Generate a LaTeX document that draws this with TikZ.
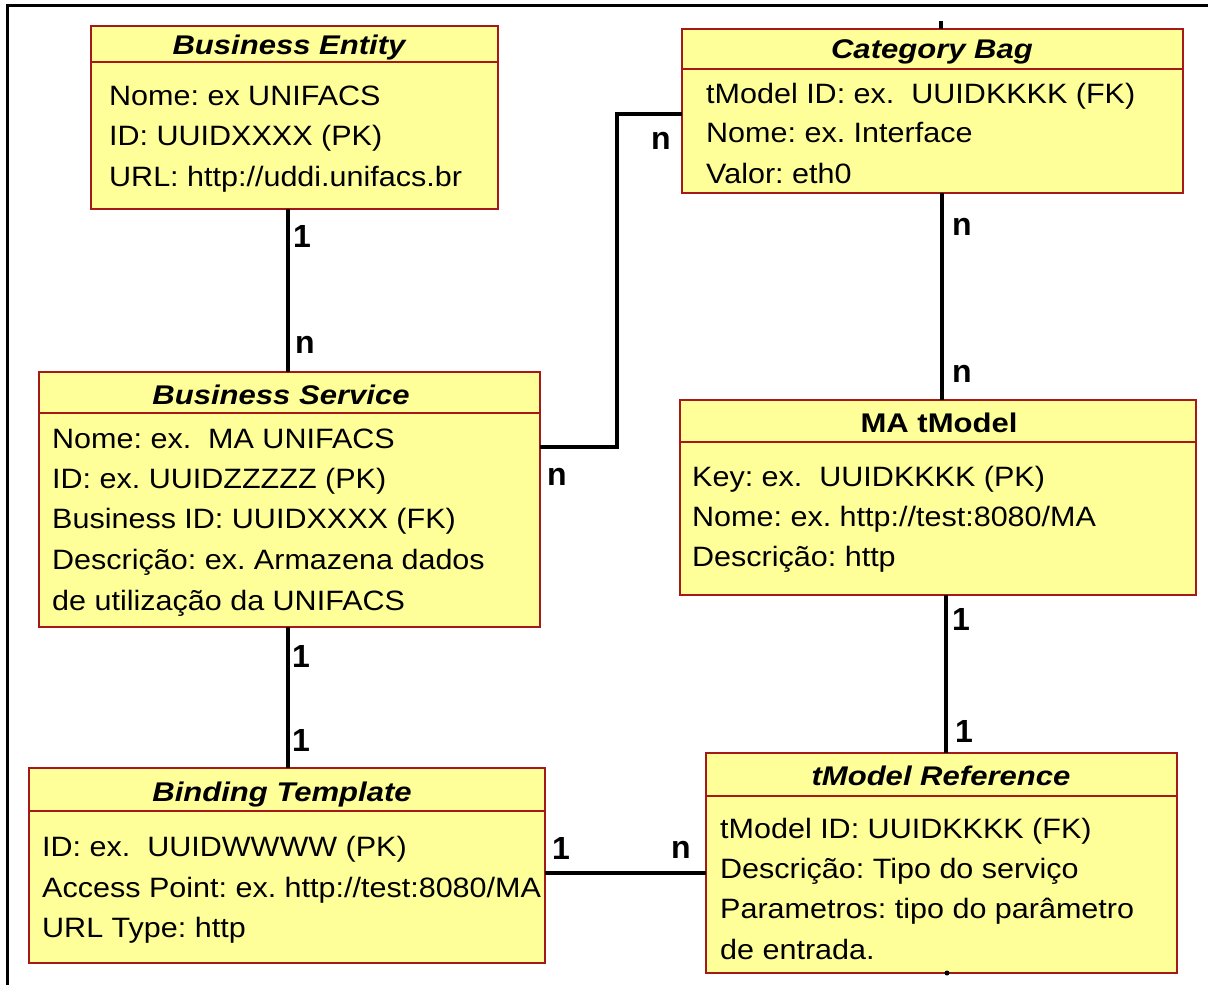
\documentclass[tikz,border=0pt]{standalone}
\usepackage{fontspec}
\setmainfont{Liberation Sans}
\newfontfamily\bodyfam[FakeStretch=1.09]{Liberation Sans}
\newfontfamily\titlefam[FakeStretch=1.15]{Liberation Sans}
\definecolor{boxfill}{RGB}{255,255,153}
\definecolor{boxedge}{RGB}{165,25,25}
\frenchspacing

\begin{document}
\begin{tikzpicture}[x=1pt,y=-1pt,
  entity/.style={draw=boxedge, fill=boxfill, line width=2pt, rectangle,
                 anchor=north west, inner sep=0pt, outer sep=0pt},
  divider/.style={draw=boxedge, line width=2pt},
  classtitle/.style={anchor=base, inner sep=0pt,
                 font=\titlefam\bfseries\itshape\fontsize{27}{31}\selectfont},
  plaintitle/.style={anchor=base, inner sep=0pt,
                 font=\titlefam\bfseries\fontsize{27}{31}\selectfont},
  field/.style={anchor=base west, inner sep=0pt,
                 font=\bodyfam\frenchspacing\fontsize{28}{32}\selectfont},
  link/.style={draw=black, line width=4.5pt},
  mult/.style={inner sep=0pt, font=\bfseries\fontsize{32}{35}\selectfont},
  frameline/.style={draw=black, line width=3pt}]

\useasboundingbox (0,0) rectangle (1211,985);

% page frame (left and top edges)
\draw[frameline] (7,985) -- (7,5) -- (1208,5);

% ---------- Business Entity ----------
\node[entity, minimum width=407pt, minimum height=183pt] (be) at (91,26) {};
\draw[divider] (be.north west |- 0,62) -- (be.north east |- 0,62);
\node[classtitle] (be-t) at (289,54) {Business Entity};
\node[field] (be-1) at (109,105) {Nome: ex UNIFACS};
\node[field] (be-2) at (109,145) {ID: UUIDXXXX (PK)};
\node[field] (be-3) at (109,186) {URL: http://uddi.unifacs.br};

% ---------- Category Bag ----------
\node[entity, minimum width=501pt, minimum height=164pt] (cb) at (682,29) {};
\draw[divider] (cb.north west |- 0,69) -- (cb.north east |- 0,69);
\node[classtitle] (cb-t) at (932,58) {Category Bag};
\node[field] (cb-1) at (706,103) {tModel ID: ex.\ \ UUIDKKKK (FK)};
\node[field] (cb-2) at (706,142) {Nome: ex. Interface};
\node[field] (cb-3) at (706,183) {Valor: eth0};

% ---------- Business Service ----------
\node[entity, minimum width=501pt, minimum height=255pt] (bs) at (39,372) {};
\draw[divider] (bs.north west |- 0,413) -- (bs.north east |- 0,413);
\node[classtitle] (bs-t) at (281,404) {Business Service};
\node[field] (bs-1) at (52,448) {Nome: ex.\ \ MA UNIFACS};
\node[field] (bs-2) at (52,488) {ID: ex. UUIDZZZZZ (PK)};
\node[field] (bs-3) at (52,528) {Business ID: UUIDXXXX (FK)};
\node[field] (bs-4) at (52,569) {Descrição: ex. Armazena dados};
\node[field] (bs-5) at (52,610) {de utilização da UNIFACS};

% ---------- MA tModel ----------
\node[entity, minimum width=516pt, minimum height=195pt] (ma) at (680,400) {};
\draw[divider] (ma.north west |- 0,442) -- (ma.north east |- 0,442);
\node[plaintitle] (ma-t) at (939,432) {MA tModel};
\node[field] (ma-1) at (692,486) {Key: ex.\ \ UUIDKKKK (PK)};
\node[field] (ma-2) at (692,526) {Nome: ex. http://test:8080/MA};
\node[field] (ma-3) at (692,566) {Descrição: http};

% ---------- Binding Template ----------
\node[entity, minimum width=516pt, minimum height=195pt] (bt) at (29,768) {};
\draw[divider] (bt.north west |- 0,811) -- (bt.north east |- 0,811);
\node[classtitle] (bt-t) at (282,801) {Binding Template};
\node[field] (bt-1) at (42,856) {ID: ex.\ \ UUIDWWWW (PK)};
\node[field] (bt-2) at (42,897) {Access Point: ex. http://test:8080/MA};
\node[field] (bt-3) at (42,937) {URL Type: http};

% ---------- tModel Reference ----------
\node[entity, minimum width=471pt, minimum height=220pt] (tmr) at (706,753) {};
\draw[divider] (tmr.north west |- 0,796) -- (tmr.north east |- 0,796);
\node[classtitle] (tmr-t) at (941,785) {tModel Reference};
\node[field] (tmr-1) at (720,838) {tModel ID: UUIDKKKK (FK)};
\node[field] (tmr-2) at (720,878) {Descrição: Tipo do serviço};
\node[field] (tmr-3) at (720,918) {Parametros: tipo do parâmetro};
\node[field] (tmr-4) at (720,959) {de entrada.};

% ---------- relationship lines ----------
\coordinate (colA) at (288,0);
\coordinate (colB) at (617,0);
\coordinate (colC) at (942,0);
\coordinate (colD) at (946,0);
\coordinate (rowA) at (0,447);
\coordinate (rowB) at (0,114);
\coordinate (rowC) at (0,873);

\draw[link] (be.south -| colA) -- (bs.north -| colA);
\draw[link] (bs.south -| colA) -- (bt.north -| colA);
\draw[link] (bs.east |- rowA) -| (colB |- rowB) -- (cb.west |- rowB);
\draw[link] (cb.south -| colC) -- (ma.north -| colC);
\draw[link] (ma.south -| colD) -- (tmr.north -| colD);
\draw[link] (bt.east |- rowC) -- (tmr.west |- rowC);

% small connector stubs
\draw[line width=3.5pt] (941,21) -- (cb.north -| 941,0);
\fill (947,973) circle[radius=2.5pt];

% ---------- multiplicities ----------
\node[mult] (m-be) at (302,236) {1};
\node[mult] (m-bs1) at (305,345) {n};
\node[mult] (m-cb1) at (661,141) {n};
\node[mult] (m-bs2) at (557,477) {n};
\node[mult] (m-cb2) at (962,227) {n};
\node[mult] (m-ma1) at (962,374) {n};
\node[mult] (m-ma2) at (961,619) {1};
\node[mult] (m-tmr1) at (964,731) {1};
\node[mult] (m-bs3) at (301,656) {1};
\node[mult] (m-bt1) at (301,740) {1};
\node[mult] (m-bt2) at (561,848) {1};
\node[mult] (m-tmr2) at (681,850) {n};

\end{tikzpicture}
\end{document}
